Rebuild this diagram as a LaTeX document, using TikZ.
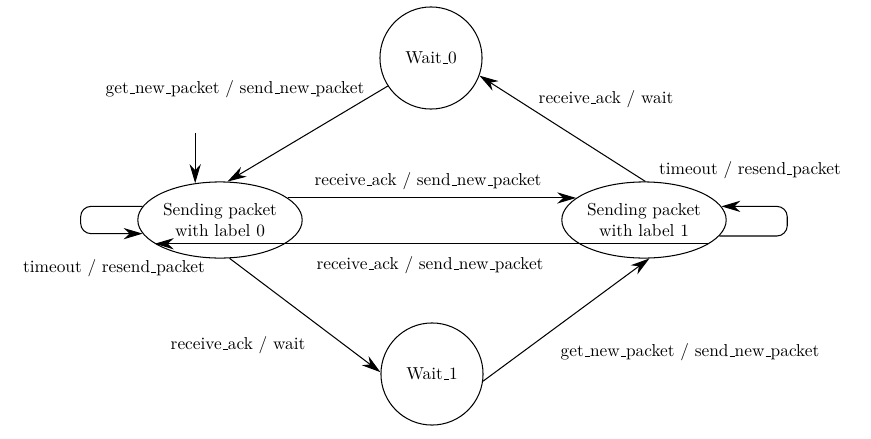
\documentclass[tikz,border=0pt]{standalone}
\usetikzlibrary{arrows.meta,shapes.geometric}
\newcommand\us{\leavevmode\kern.06em\vbox{\hrule width.3em}}
\begin{document}
\begin{tikzpicture}[x=0.578pt,y=-0.578pt,
  arr/.style={-{Stealth[length=11pt,width=6.5pt,inset=3.5pt]},line width=0.6pt},
  waitstate/.style={circle,draw,line width=0.6pt,minimum size=59pt,inner sep=0pt},
  sendstate/.style={ellipse,draw,line width=0.6pt,minimum width=95pt,minimum height=44pt,inner sep=0pt,align=center},
  lbl/.style={inner sep=1pt}]
\useasboundingbox (0,0) rectangle (871,438);
\node[waitstate] (w0) at (431,58) {Wait\us 0};
\node[waitstate] (w1) at (432,374) {Wait\us 1};
\node[sendstate] (s0) at (220,220) {Sending packet\\with label 0};
\node[sendstate] (s1) at (644,220) {Sending packet\\with label 1};
\path (s0.124) ++(0,-50) coordinate (init);
\draw[arr] (init) -- (s0.124);
\draw[arr] (w0.213) -- (s0.79);
\draw[arr] (s0.18) -- (s1.162);
\draw[arr] (s1.-20) -- (s0.200);
\draw[arr] (s1.88) -- (w0.-20);
\draw[arr] (s0.-76) -- (w1.178);
\draw[arr] (w1.-8) -- (s1.-82);
\draw[arr,rounded corners=6pt] (s0.170) -- ++(-62,0) |- (s0.190);
\draw[arr,rounded corners=6pt] (s1.-12) -- ++(68,0) |- (s1.10);
\node[lbl] (l1) at (235,89) {get\us new\us packet / send\us new\us packet};
\node[lbl] (l2) at (428,181) {receive\us ack / send\us new\us packet};
\node[lbl] (l3) at (430,265) {receive\us ack / send\us new\us packet};
\node[lbl] (l4) at (606,99) {receive\us ack / wait};
\node[lbl] (l5) at (750,170) {timeout / resend\us packet};
\node[lbl] (l6) at (114,268) {timeout / resend\us packet};
\node[lbl] (l7) at (238,345) {receive\us ack / wait};
\node[lbl] (l8) at (690,352) {get\us new\us packet / send\us new\us packet};
\end{tikzpicture}
\end{document}
